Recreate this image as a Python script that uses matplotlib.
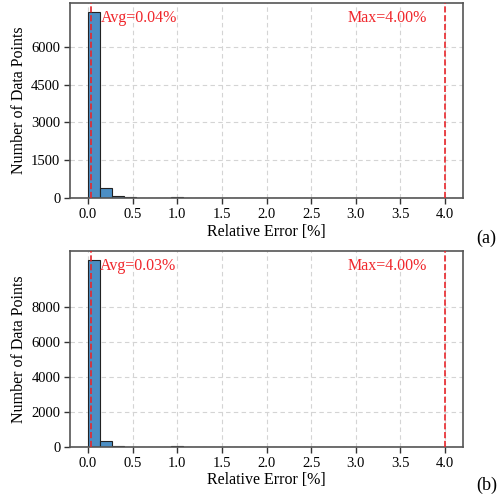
import numpy as np
import matplotlib
matplotlib.use('Agg')
import matplotlib.pyplot as plt

plt.rcParams['font.family'] = ['Liberation Serif', 'DejaVu Serif']

# 30 bins over 0..4 %
bin_edges = np.linspace(0, 4.0, 31)

# counts per bin (a) and (b)
counts_a = [7375, 380, 90, 25, 8, 5, 4, 40, 3, 2, 2, 1, 1, 1, 1,
            0, 0, 0, 0, 0, 0, 0, 0, 0, 0, 0, 0, 0, 0, 1]
counts_b = [10670, 330, 70, 25, 8, 5, 4, 30, 3, 2, 2, 1, 1, 1, 1,
            0, 0, 0, 0, 0, 0, 0, 0, 0, 0, 0, 0, 0, 0, 1]
avg_a, max_a = 0.04, 4.00
avg_b, max_b = 0.03, 4.00
yticks_a = [0, 1500, 3000, 4500, 6000]
yticks_b = [0, 2000, 4000, 6000, 8000]
xticks = [0.0, 0.5, 1.0, 1.5, 2.0, 2.5, 3.0, 3.5, 4.0]

fig = plt.figure(figsize=(4.99, 4.95), dpi=100)
ax1 = fig.add_axes([70/499, 1-198/495, 393/499, 195/495])
ax2 = fig.add_axes([70/499, 1-447/495, 393/499, 196/495])

panels = [(ax1, counts_a, avg_a, max_a, yticks_a, '(a)', 238),
          (ax2, counts_b, avg_b, max_b, yticks_b, '(b)', 485)]

for ax, counts, avg, mx, yt, tag, ty in panels:
    ax.hist(bin_edges[:-1], bins=bin_edges, weights=counts,
            color='#4b8ec4', edgecolor='#222222', linewidth=0.8, zorder=2)
    ax.axvline(avg, color='#e8262b', linestyle='--', linewidth=1.2, zorder=3)
    ax.axvline(mx, color='#e8262b', linestyle='--', linewidth=1.2, zorder=3)
    top = max(counts)
    ax.text(avg + 0.1, top * 0.97, f'Avg={avg:.2f}%', color='#f0262b',
            fontsize=11.5, va='center', ha='left')
    ax.text(mx - 0.2, top * 0.97, f'Max={mx:.2f}%', color='#f0262b',
            fontsize=11.5, va='center', ha='right')
    ax.set_xlim(-0.2, 4.2)
    ax.set_ylim(0, top * 1.05)
    ax.set_xticks(xticks)
    ax.set_yticks(yt)
    ax.grid(True, linestyle=(0, (4, 3)), color='#d4d4d4', linewidth=0.8, zorder=0)
    ax.set_axisbelow(True)
    for s in ax.spines.values():
        s.set_color('#555555')
        s.set_linewidth(1.2)
    ax.tick_params(labelsize=10.5, length=4, width=1, color='#333333', pad=3)
    ax.set_xlabel('Relative Error [%]', fontsize=11.5, labelpad=2)
    ax.set_ylabel('Number of Data Points', fontsize=11.5, labelpad=3)
    fig.text(476/499, 1 - ty/495, tag, fontsize=13, va='center', ha='left')

fig.savefig('out.png', dpi=100)
